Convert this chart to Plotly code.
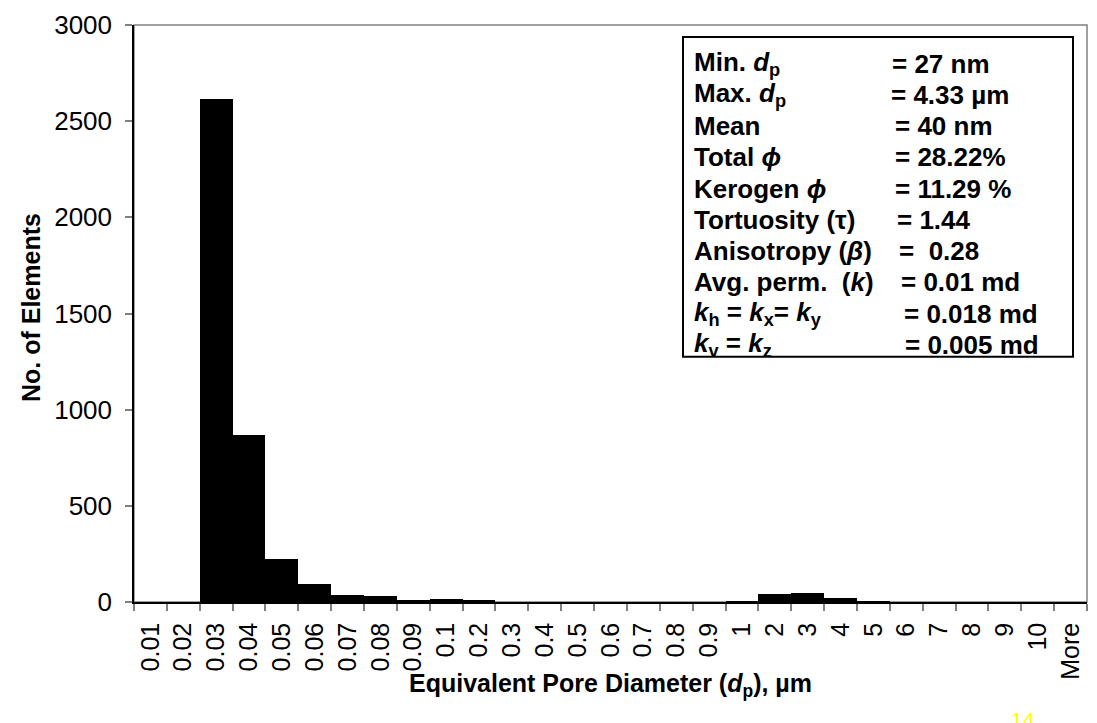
import plotly.graph_objects as go

# ---------------- data ----------------
categories = ["0.01", "0.02", "0.03", "0.04", "0.05", "0.06", "0.07", "0.08", "0.09",
              "0.1", "0.2", "0.3", "0.4", "0.5", "0.6", "0.7", "0.8", "0.9",
              "1", "2", "3", "4", "5", "6", "7", "8", "9", "10", "More"]
counts = [0, 0, 2614, 866, 222, 93, 37, 31, 8,
          15, 9, 0, 0, 0, 0, 0, 0, 0,
          5, 44, 46, 22, 4, 0, 0, 0, 0, 0, 0]

y_ticks = [0, 500, 1000, 1500, 2000, 2500, 3000]

stat_labels = ["Min. <i>d</i><sub>p</sub>",
               "Max. <i>d</i><sub>p</sub>",
               "Mean",
               "Total <i>ϕ</i>",
               "Kerogen <i>ϕ</i>",
               "Tortuosity (τ)",
               "Anisotropy (<i>β</i>)",
               "Avg. perm.  (<i>k</i>)",
               "<i>k</i><sub>h</sub> = <i>k</i><sub>x</sub>= <i>k</i><sub>y</sub>",
               "<i>k</i><sub>v</sub> = <i>k</i><sub>z</sub>"]
stat_values = ["= 27 nm", "= 4.33 µm", "= 40 nm", "= 28.22%", "= 11.29 %",
               "= 1.44", "=  0.28", "= 0.01 md", "= 0.018 md", "= 0.005 md"]

x_title = "Equivalent Pore Diameter (<i>d</i><sub>p</sub>), µm"
y_title = "No. of Elements"

# ---------------- layout helpers ----------------
W, H = 1097, 723
L, R, T, B = 134, 1087, 21, 602
FONT = "Arial, Liberation Sans, sans-serif"


def px(x):
    return (x - L) / (R - L)


def py(y):
    return (B - y) / (B - T)


fig = go.Figure()
fig.add_trace(go.Bar(x=categories, y=counts,
                     marker=dict(color="black", line=dict(width=0)),
                     showlegend=False, hoverinfo="x+y"))

fig.update_layout(
    width=W, height=H,
    margin=dict(l=L, r=W - R, t=T, b=H - B, pad=0),
    paper_bgcolor="white", plot_bgcolor="white",
    bargap=0,
    font=dict(family=FONT, color="black", size=25),
)

fig.update_xaxes(type="category", categoryorder="array", categoryarray=categories,
                 showline=True, linecolor="black", linewidth=1.5,
                 ticks="outside", tickson="boundaries", ticklen=7, tickwidth=1.5,
                 tickcolor="#808080", tickangle=-90, ticklabelstandoff=9,
                 tickfont=dict(size=25, family=FONT), showgrid=False, zeroline=False)
fig.update_yaxes(range=[0, 3000], tickvals=y_ticks,
                 showline=True, linecolor="black", linewidth=1.5,
                 ticks="outside", ticklen=7, tickwidth=1.5, tickcolor="#808080",
                 ticklabelstandoff=8,
                 tickfont=dict(size=26, family=FONT), showgrid=False, zeroline=False)

shapes = [
    # plot frame (grey top/right)
    dict(type="rect", xref="paper", yref="paper", x0=0, x1=1, y0=0, y1=1,
         line=dict(color="#808080", width=1.5), layer="below"),
    # statistics box
    dict(type="rect", xref="paper", yref="paper",
         x0=px(683), x1=px(1073), y0=py(355), y1=py(33),
         line=dict(color="black", width=2), fillcolor="rgba(0,0,0,0)", layer="above"),
]
fig.update_layout(shapes=shapes)

annotations = []
val_x = [890, 889, 893, 893, 893, 895, 897, 899, 902, 903]
for i, (lab, val) in enumerate(zip(stat_labels, stat_values)):
    yc = 60 + i * 31.45
    annotations.append(dict(xref="paper", yref="paper", x=px(692), y=py(yc),
                            xanchor="left", yanchor="middle", showarrow=False,
                            text="<b>" + lab + "</b>",
                            font=dict(size=26, family=FONT, color="black")))
    annotations.append(dict(xref="paper", yref="paper", x=px(val_x[i]), y=py(yc),
                            xanchor="left", yanchor="middle", showarrow=False,
                            text="<b>" + val + "</b>",
                            font=dict(size=26, family=FONT, color="black")))

annotations.append(dict(xref="paper", yref="paper", x=px(610), y=py(686),
                        xanchor="center", yanchor="middle", showarrow=False,
                        text="<b>" + x_title + "</b>",
                        font=dict(size=25, family=FONT, color="black")))
annotations.append(dict(xref="paper", yref="paper", x=px(31), y=py(306),
                        xanchor="center", yanchor="middle", showarrow=False,
                        textangle=-90,
                        text="<b>" + y_title + "</b>",
                        font=dict(size=25, family=FONT, color="black")))
annotations.append(dict(xref="paper", yref="paper", x=px(1023), y=py(707),
                        xanchor="center", yanchor="top", showarrow=False,
                        text="14",
                        font=dict(size=21, family=FONT, color="#FFFF00")))
fig.update_layout(annotations=annotations)

fig.write_html("out.html")
